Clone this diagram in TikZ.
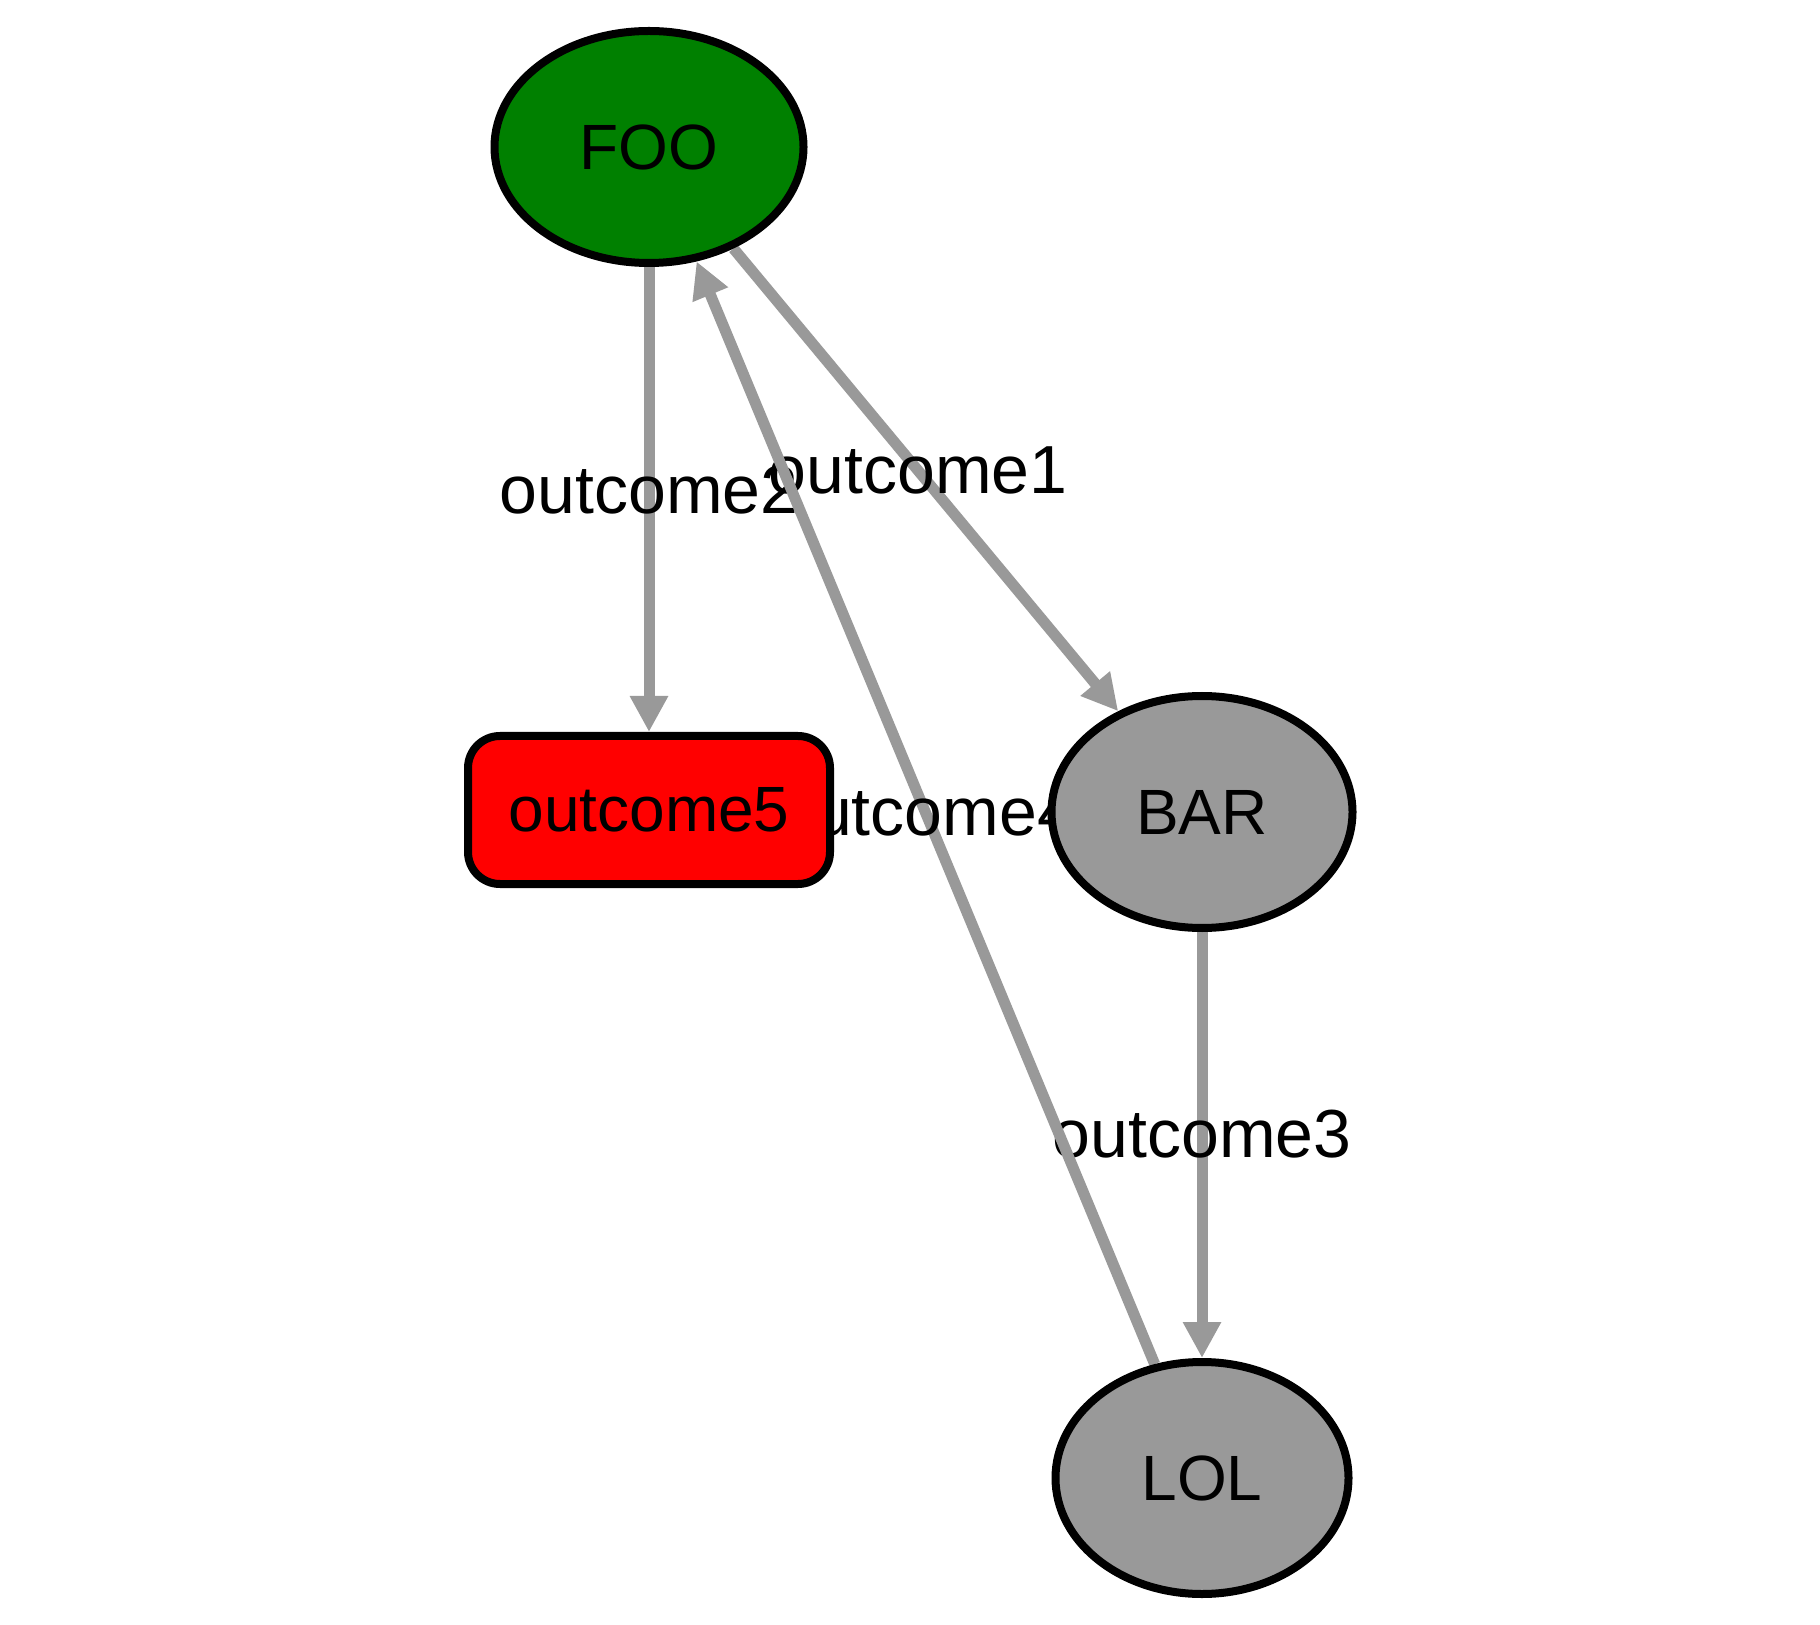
\documentclass[tikz,border=0pt]{standalone}
\usepackage{fontspec}
\setmainfont{Liberation Sans}
\usetikzlibrary{shapes.geometric,arrows.meta}
\pgfdeclarelayer{edges}
\pgfsetlayers{edges,main}
\definecolor{edgegray}{HTML}{999999}
\definecolor{foogreen}{HTML}{008000}
\begin{document}
\begin{tikzpicture}[x=0.5pt,y=-0.5pt,
  txt/.style={font=\fontsize{32}{38}\selectfont},
  state/.style={ellipse,draw=black,line width=4pt,inner sep=0pt,minimum height=116pt,txt},
  final/.style={rectangle,rounded corners=16pt,draw=black,fill=red,line width=4pt,inner sep=0pt,
    minimum width=181pt,minimum height=74pt,txt},
  outcome/.style={draw=edgegray,line width=5.5pt,-{Triangle[length=18pt,width=18pt]}},
  lbl/.style={inner sep=0pt,font=\fontsize{34}{40}\selectfont}]
  \useasboundingbox (0,0) rectangle (1820,1625);

  \node[state,fill=foogreen,minimum width=154.5pt] (FOO) at (649,147) {FOO};
  \node[final] (outcome5) at (649,810) {outcome5};
  \node[state,fill=edgegray,minimum width=150.5pt] (BAR) at (1202,812) {BAR};
  \node[state,fill=edgegray,minimum width=146.5pt] (LOL) at (1202,1478) {LOL};

  \begin{pgfonlayer}{edges}
    \draw[outcome] (FOO) -- node[lbl,pos=0.48] {outcome1} (BAR);
    \draw[outcome] (FOO) -- node[lbl,pos=0.48] {outcome2} (outcome5);
    \draw[outcome] (BAR) -- node[lbl,pos=0.475] {outcome3} (LOL);
    \draw[outcome] (LOL) -- node[lbl,midway] {outcome4} (FOO);
  \end{pgfonlayer}
\end{tikzpicture}
\end{document}
